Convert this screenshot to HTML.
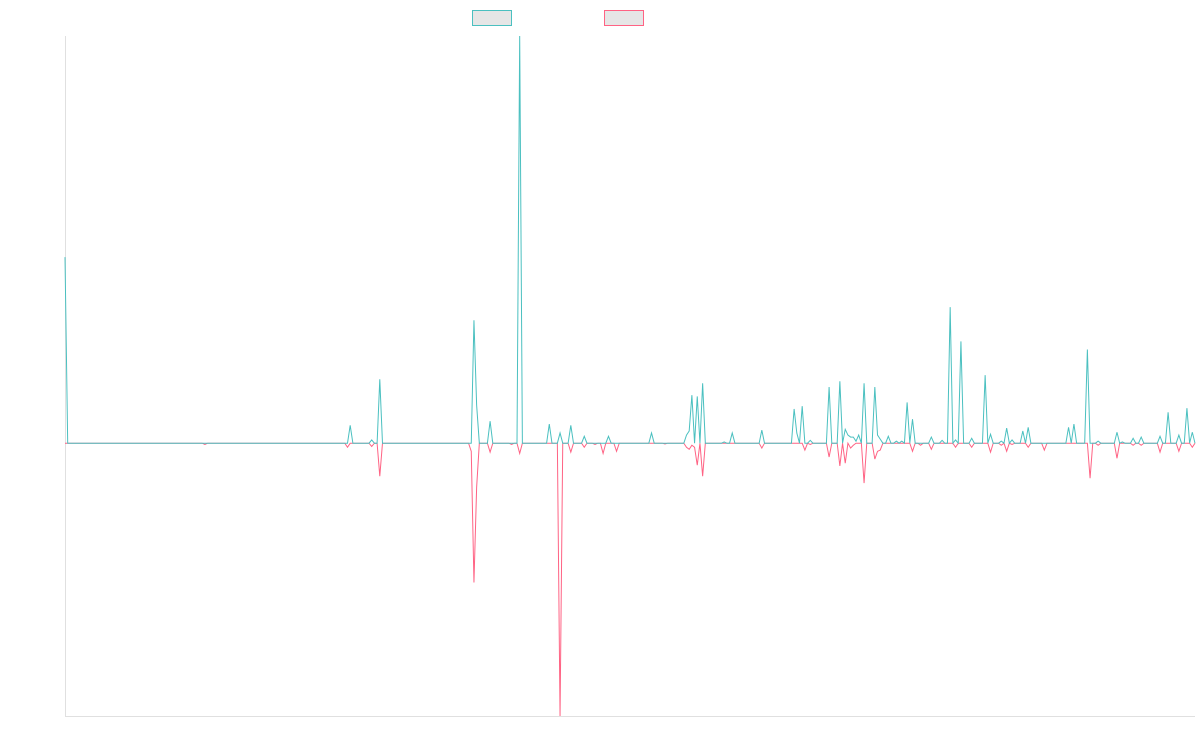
<!DOCTYPE html>
<html><head><meta charset="utf-8"><style>
html,body{margin:0;padding:0;background:#fff;width:1200px;height:750px;overflow:hidden;font-family:"Liberation Sans",sans-serif}
</style></head><body>
<svg id="chart" width="1200" height="750" xmlns="http://www.w3.org/2000/svg">
<rect x="472.5" y="10.5" width="39" height="15" fill="#e6e6e6" stroke="rgb(75,192,192)" stroke-width="1"/>
<rect x="604.5" y="10.5" width="39" height="15" fill="#e6e6e6" stroke="rgb(255,99,132)" stroke-width="1"/>
<line x1="65.5" y1="36" x2="65.5" y2="716" stroke="#e0e0e0"/>
<line x1="65" y1="716.5" x2="1195" y2="716.5" stroke="#e0e0e0"/>
<g id="series"></g>
</svg>
<script>
const pointCount = 421;
const tealIdx = [0,106,114,117,152,153,158,169,180,184,188,193,202,218,231,232,233,235,237,245,248,259,271,272,274,277,284,288,290,291,292,293,294,295,297,301,302,303,306,309,311,313,315,322,326,329,331,333,337,342,344,348,350,352,356,358,373,375,380,384,391,393,397,400,407,410,414,417,419,420];
const tealVal = [45.7,4.4,0.8,15.7,30.2,9.3,5.4,100,4.7,2.5,4.4,1.7,1.7,2.5,2,3,11.8,11.5,14.7,0.3,2.5,3.2,8.4,2.5,9.1,0.7,13.8,15.2,3.4,2,1.5,1.5,0.5,2,14.7,13.8,2,1,1.7,0.5,0.5,10,5.9,1.5,0.7,33.4,0.8,25,1.2,16.7,2.2,0.5,3.7,0.8,3,3.9,3.9,4.7,23,0.5,2.7,0.3,1.2,1.5,1.7,7.6,2,8.6,2.7,0];
const pinkIdx = [52,105,114,117,151,152,153,158,166,169,184,188,193,197,200,205,223,231,232,233,234,235,237,259,275,277,284,288,290,292,293,297,301,302,303,315,318,322,331,337,344,348,350,352,358,364,381,384,391,397,400,407,414,419];
const pinkVal = [-0.3,-1,-0.8,-8.1,-2,-34.2,-10.8,-2.2,-0.3,-2.5,-67,-2.2,-1,-0.3,-2.5,-2,-0.2,-1,-1.5,-0.5,-1,-5.4,-8.1,-1.2,-1.7,-0.3,-3.4,-5.6,-4.9,-1.2,-0.5,-9.8,-3.9,-2,-1.7,-2,-0.5,-1.5,-1,-1,-2.2,-0.5,-2,-0.3,-1,-1.7,-8.6,-0.5,-3.7,-0.5,-0.5,-2.2,-2,-1];
const yMin = -67, yMax = 100;
const plotLeft = 65, plotRight = 1195, plotTop = 36, plotBottom = 716;
function xScale(i){return plotLeft + i*(plotRight-plotLeft)/(pointCount-1);}
function yScale(v){return plotBottom - (v-yMin)/(yMax-yMin)*(plotBottom-plotTop);}
function expand(idx, val){const a=new Array(pointCount).fill(0);idx.forEach((k,j)=>{a[k]=val[j];});return a;}
const g=document.getElementById('series');
function draw(idx,val,color,name){
  const v=expand(idx,val);
  const d=v.map((y,i)=>(i?'L':'M')+xScale(i).toFixed(2)+' '+yScale(y).toFixed(2)).join(' ');
  const p=document.createElementNS('http://www.w3.org/2000/svg','path');
  p.setAttribute('d',d);p.setAttribute('fill','none');p.setAttribute('stroke',color);p.setAttribute('stroke-width','1');
  
  
  g.appendChild(p);
}
draw(pinkIdx,pinkVal,'rgb(255,99,132)','series-2-line');
draw(tealIdx,tealVal,'rgb(75,192,192)','series-1-line');
</script>
</body></html>
